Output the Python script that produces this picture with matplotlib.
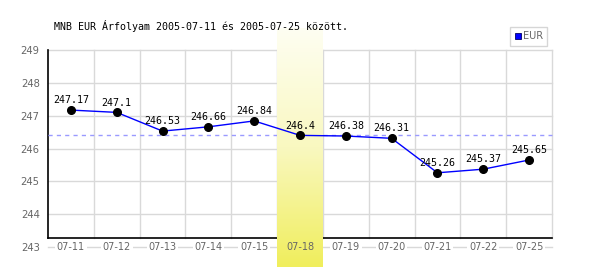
import matplotlib
matplotlib.use("Agg")
import matplotlib.pyplot as plt
import numpy as np
from matplotlib.lines import Line2D
from matplotlib.colors import LinearSegmentedColormap

title = "MNB EUR Árfolyam 2005-07-11 és 2005-07-25 között."
categories = ["07-11", "07-12", "07-13", "07-14", "07-15", "07-18",
              "07-19", "07-20", "07-21", "07-22", "07-25"]
values = [247.17, 247.1, 246.53, 246.66, 246.84, 246.4,
          246.38, 246.31, 245.26, 245.37, 245.65]
value_labels = ["247.17", "247.1", "246.53", "246.66", "246.84", "246.4",
                "246.38", "246.31", "245.26", "245.37", "245.65"]
y_ticks = [243, 244, 245, 246, 247, 248, 249]
highlight = "07-18"
series_name = "EUR"

W, H = 600, 270
fig = plt.figure(figsize=(W / 100, H / 100), dpi=100)
fig.patch.set_facecolor("white")

ax_l, ax_r, ax_t, ax_b = 48, 552, 50, 247
ax = fig.add_axes([ax_l / W, 1 - ax_b / H, (ax_r - ax_l) / W, (ax_b - ax_t) / H])
ax.set_facecolor("white")
for s in ax.spines.values():
    s.set_visible(False)

n = len(categories)
x = np.arange(n)
ymin, ymax = y_ticks[0], y_ticks[-1]
px_per_unit = (ax_b - ax_t) / (ymax - ymin)
floor = ymin + 9 / px_per_unit  # x-axis line sits slightly above lowest gridline

grid_c = "#d9d9d9"
for t in y_ticks:
    ax.plot([-0.5, n - 0.5], [t, t], color=grid_c, lw=1.0, zorder=1, clip_on=False)
for b in np.arange(0.5, n, 1.0):
    ax.plot([b, b], [floor, ymax], color=grid_c, lw=1.0, zorder=1, clip_on=False)

ax.plot([-0.5, -0.5], [floor, ymax], color="black", lw=1.2, zorder=2, clip_on=False)
ax.plot([-0.5, n - 0.5], [floor, floor], color="black", lw=1.2, zorder=2, clip_on=False)

hi = categories.index(highlight)
ref_v = values[hi]
ax.plot([-0.5, n - 0.5], [ref_v, ref_v], color="#9a9aff", lw=1.0,
        ls=(0, (3, 3)), zorder=2, clip_on=False)

band_top = ymax + 22 / px_per_unit
band_bot = ymin - 20 / px_per_unit
cmap = LinearSegmentedColormap.from_list("yb", ["#fefef2", "#f9f8c0", "#f0ee5c"])
grad = np.linspace(1, 0, 256).reshape(-1, 1)
ax.imshow(grad, extent=[hi - 0.5, hi + 0.5, band_bot, band_top], cmap=cmap,
          vmin=0, vmax=1, aspect="auto", origin="lower", zorder=3, clip_on=False,
          interpolation="bilinear")

ax.plot(x, values, color="#0000ff", lw=1.0, zorder=4, clip_on=False)
ax.plot(x, values, ls="none", marker="o", ms=5.5, mfc="black", mec="black",
        zorder=5, clip_on=False)
for xi, v, lab in zip(x, values, value_labels):
    ax.annotate(lab, (xi, v), xytext=(0, 3.5), textcoords="offset points",
                ha="center", va="bottom", fontsize=7.2, family="DejaVu Sans Mono",
                color="black", zorder=6)

for xi, c in zip(x, categories):
    bb = dict(facecolor="white" if c != highlight else "none", edgecolor="none", pad=1.2)
    ax.text(xi, ymin, c, ha="center", va="center", fontsize=7, color="#666666",
            family="DejaVu Sans", bbox=bb, zorder=3.5)

ax.set_xlim(-0.5, n - 0.5)
ax.set_ylim(ymin, ymax)
ax.set_xticks([])
ax.set_yticks(y_ticks)
ax.set_yticklabels([str(t) for t in y_ticks], fontsize=7.2, color="#666666")
ax.tick_params(axis="y", length=0, pad=6)

fig.text(54 / W, 1 - 26 / H, title, ha="left", va="center", fontsize=7.2,
         family="DejaVu Sans Mono", color="black")

h = Line2D([], [], ls="none", marker="s", ms=5, mfc="#0000ff", mec="#000066", mew=0.6)
leg = fig.legend(handles=[h], labels=[series_name], loc="upper right",
                 bbox_to_anchor=(ax_r / W, 1 - 22 / H), frameon=True, fancybox=False,
                 handlelength=0.6, handletextpad=0.2, borderpad=0.45,
                 prop={"size": 7, "family": "DejaVu Sans"}, labelcolor="#666666")
leg.get_frame().set_edgecolor("#cccccc")
leg.get_frame().set_linewidth(1.0)

fig.savefig("out.png", dpi=100, facecolor="white")
